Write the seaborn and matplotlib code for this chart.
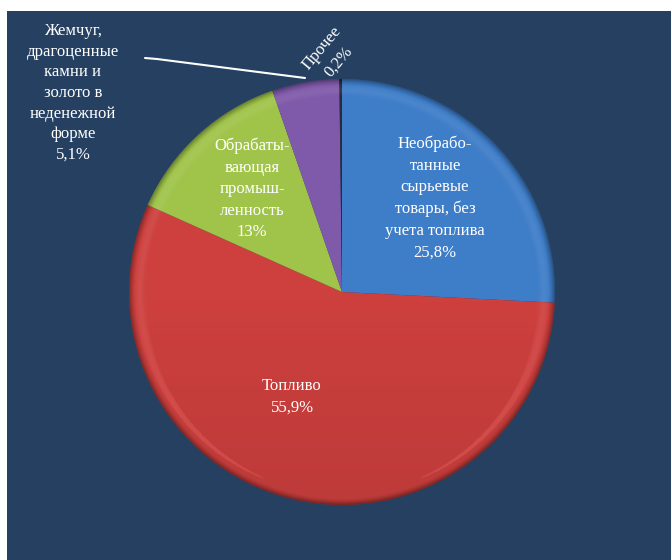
import numpy as np
import matplotlib
matplotlib.use("Agg")
import matplotlib.pyplot as plt
from matplotlib.patches import Rectangle
import seaborn as sns

# Export structure shares, %
categories = [
    "Необрабо-\nтанные\nсырьевые\nтовары, без\nучета топлива",
    "Топливо",
    "Обрабаты-\nвающая\nпромыш-\nленность",
    "Жемчуг,\nдрагоценные\nкамни и\nзолото в\nнеденежной\nформе",
    "Прочее",
]
values = [25.8, 55.9, 13.0, 5.1, 0.2]
value_labels = ["25,8%", "55,9%", "13%", "5,1%", "0,2%"]
colors = ["#3E7DC8", "#CD403E", "#A0C44A", "#805AAA", "#2A2A3A"]

sns.set_theme(style="white")
plt.rcParams["font.family"] = ["Liberation Serif", "DejaVu Serif"]

W, H = 671, 560
fig = plt.figure(figsize=(W / 100, H / 100), dpi=100, facecolor="white")
ax = fig.add_axes([0, 0, 1, 1])

navy = "#254061"
ax.add_patch(Rectangle((7, 0), W - 7, H - 11, facecolor=navy, edgecolor="none", zorder=0))

cx, cy, R = 342, H - 292, 213
wedges, _ = ax.pie(values, colors=colors, startangle=90, counterclock=False,
                   center=(cx, cy), radius=R, frame=True,
                   wedgeprops=dict(edgecolor="none", linewidth=0))
ax.set_xlim(0, W)
ax.set_ylim(0, H)
ax.set_aspect("equal")
ax.axis("off")
for w in wedges:
    w.set_zorder(2)

# Bevel shading: faint light band inside the rim, darker rim edge,
# slightly darker toward the bottom
n = 600
xs = np.linspace(cx - R, cx + R, n)
ys = np.linspace(cy - R, cy + R, n)
X, Y = np.meshgrid(xs, ys)
r = np.hypot(X - cx, Y - cy) / R
vert = (cy - Y) / R  # +1 at bottom
dark = np.clip((r - 0.97) / 0.03, 0, 1) ** 1.5 * 0.35 + np.clip(vert, 0, 1) * 0.08
light = np.exp(-((r - 0.95) / 0.02) ** 2) * 0.07
shade = np.zeros((n, n, 4))
shade[..., :3] = np.where(dark[..., None] > light[..., None], 0.0, 1.0)
shade[..., 3] = np.maximum(dark, light)
for w in wedges:
    im = ax.imshow(shade, extent=(cx - R, cx + R, cy - R, cy + R), origin="lower",
                   zorder=3, interpolation="bilinear")
    im.set_clip_path(w)
ax.set_xlim(0, W)
ax.set_ylim(0, H)

txt = dict(color="white", ha="center", va="center", fontsize=12, linespacing=1.46, zorder=5)

# Labels inside the slices
ax.text(435, H - 198, categories[0] + "\n" + value_labels[0], **txt)
ax.text(292, H - 397, categories[1] + "\n" + value_labels[1], **txt)
ax.text(252, H - 189, categories[2] + "\n" + value_labels[2], **txt)

# Outside label with leader line
ax.text(73, H - 93, categories[3] + "\n" + value_labels[3], **dict(txt, linespacing=1.38))
ax.plot([145, 157, 305], [H - 58, H - 59, H - 78], color="white", lw=1.5, zorder=4,
        solid_capstyle="round")

# Small slice label, rotated
ax.text(330, H - 55, categories[4] + "\n" + value_labels[4], rotation=50,
        rotation_mode="anchor", **txt)

fig.savefig("out.png", dpi=100, facecolor="white")
